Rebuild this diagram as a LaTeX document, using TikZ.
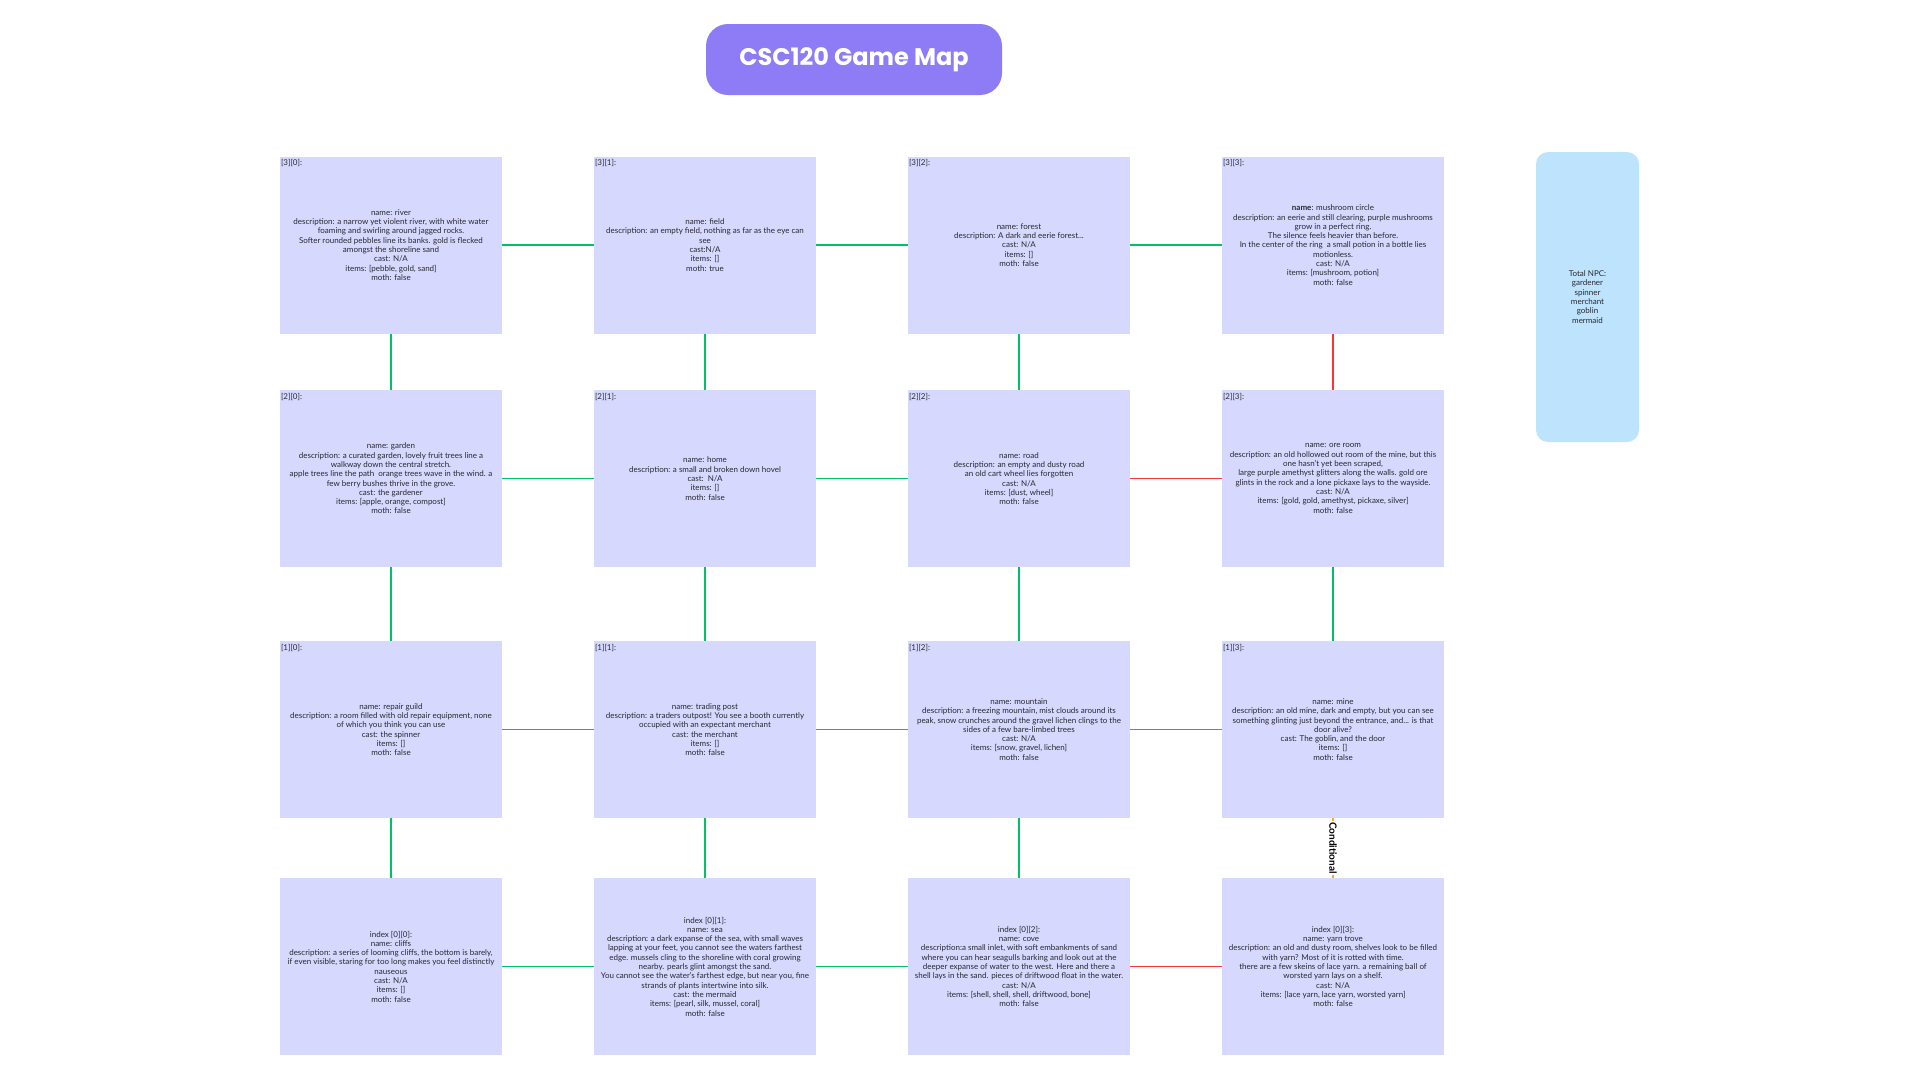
\documentclass[tikz,border=0pt]{standalone}
\usepackage{fontspec}
\setmainfont{Lato}
\newfontfamily\titlefont{Poppins}
\definecolor{roomfill}{RGB}{214,217,253}
\definecolor{npcfill}{RGB}{190,227,252}
\definecolor{titlefill}{RGB}{142,124,247}
\definecolor{linkgreen}{RGB}{0,194,100}
\definecolor{linkred}{RGB}{250,55,55}
\definecolor{linkorange}{RGB}{250,170,40}
\definecolor{roomtext}{RGB}{40,40,50}
\begin{document}
\begin{tikzpicture}[x = 1pt, y = -1pt,
    room/.style = {fill = roomfill, minimum width = 222pt, minimum height = 177pt, inner sep = 0pt,
        align = center, text = roomtext, font = \fontsize{8}{9.3}\selectfont},
    tag/.style = {anchor = north west, inner sep = 0pt, text = roomtext, font = \fontsize{8}{9}\selectfont},
    link/.style = {draw = linkgreen, line width = 1.7pt},
    blocked/.style = {draw = linkred, line width = 1.7pt}]
        \useasboundingbox (0, 0) rectangle (1920, 1080);

        \node[fill = titlefill, rounded corners = 22pt, minimum width = 296pt, minimum height = 71pt,
            text = white, font = \titlefont\bfseries\fontsize{24}{28}\selectfont] (title) at (854, 59.5) {CSC120 Game Map};

        \node[room] (r30) at (391, 245) {name: river\\description: a narrow yet violent river, with white water\\foaming and swirling around jagged rocks.\\Softer rounded pebbles line its banks. gold is flecked\\amongst the shoreline sand\\cast: N/A\\items: [pebble, gold, sand]\\moth: false};
        \node[room] (r31) at (705, 245) {name: field\\description: an empty field, nothing as far as the eye can\\see\\cast:N/A\\items: []\\moth: true};
        \node[room] (r32) at (1019, 245) {name: forest\\description: A dark and eerie forest...\\cast: N/A\\items: []\\moth: false};
        \node[room] (r33) at (1333, 245) {\textbf{name}: mushroom circle\\description: an eerie and still clearing, purple mushrooms\\grow in a perfect ring.\\The silence feels heavier than before.\\In the center of the ring\ \ a small potion in a bottle lies\\motionless.\\cast: N/A\\items: [mushroom, potion]\\moth: false};

        \node[room] (r20) at (391, 478.5) {name: garden\\description: a curated garden, lovely fruit trees line a\\walkway down the central stretch.\\apple trees line the path\ \ orange trees wave in the wind. a\\few berry bushes thrive in the grove.\\cast: the gardener\\items: [apple, orange, compost]\\moth: false};
        \node[room] (r21) at (705, 478.5) {name: home\\description: a small and broken down hovel\\cast:\ \ N/A\\items: []\\moth: false};
        \node[room] (r22) at (1019, 478.5) {name: road\\description: an empty and dusty road\\an old cart wheel lies forgotten\\cast: N/A\\items: [dust, wheel]\\moth: false};
        \node[room] (r23) at (1333, 478.5) {name: ore room\\description: an old hollowed out room of the mine, but this\\one hasn't yet been scraped,\\large purple amethyst glitters along the walls. gold ore\\glints in the rock and a lone pickaxe lays to the wayside.\\cast: N/A\\items: [gold, gold, amethyst, pickaxe, silver]\\moth: false};

        \node[room] (r10) at (391, 729.5) {name: repair guild\\description: a room filled with old repair equipment, none\\of which you think you can use\\cast: the spinner\\items: []\\moth: false};
        \node[room] (r11) at (705, 729.5) {name: trading post\\description: a traders outpost! You see a booth currently\\occupied with an expectant merchant\\cast: the merchant\\items: []\\moth: false};
        \node[room] (r12) at (1019, 729.5) {name: mountain\\description: a freezing mountain, mist clouds around its\\peak, snow crunches around the gravel lichen clings to the\\sides of a few bare-limbed trees\\cast: N/A\\items: [snow, gravel, lichen]\\moth: false};
        \node[room] (r13) at (1333, 729.5) {name: mine\\description: an old mine, dark and empty, but you can see\\something glinting just beyond the entrance, and... is that\\door alive?\\cast: The goblin, and the door\\items: []\\moth: false};

        \node[room] (r00) at (391, 966.5) {index [0][0]:\\name: cliffs\\description: a series of looming cliffs, the bottom is barely,\\if even visible, staring for too long makes you feel distinctly\\nauseous\\cast: N/A\\items: []\\moth: false};
        \node[room] (r01) at (705, 966.5) {index [0][1]:\\name: sea\\description: a dark expanse of the sea, with small waves\\lapping at your feet, you cannot see the waters farthest\\edge. mussels cling to the shoreline with coral growing\\nearby. pearls glint amongst the sand.\\You cannot see the water's farthest edge, but near you, fine\\strands of plants intertwine into silk.\\cast: the mermaid\\items: [pearl, silk, mussel, coral]\\moth: false};
        \node[room] (r02) at (1019, 966.5) {index [0][2]:\\name: cove\\description:a small inlet, with soft embankments of sand\\where you can hear seagulls barking and look out at the\\deeper expanse of water to the west. Here and there a\\shell lays in the sand. pieces of driftwood float in the water.\\cast: N/A\\items: [shell, shell, shell, driftwood, bone]\\moth: false};
        \node[room] (r03) at (1333, 966.5) {index [0][3]:\\name: yarn trove\\description: an old and dusty room, shelves look to be filled\\with yarn? Most of it is rotted with time.\\there are a few skeins of lace yarn. a remaining ball of\\worsted yarn lays on a shelf.\\cast: N/A\\items: [lace yarn, lace yarn, worsted yarn]\\moth: false};

        \node[tag] (t30) at ([shift = {(1, 3)}]r30.north west) {[3][0]:};
        \node[tag] (t31) at ([shift = {(1, 3)}]r31.north west) {[3][1]:};
        \node[tag] (t32) at ([shift = {(1, 3)}]r32.north west) {[3][2]:};
        \node[tag] (t33) at ([shift = {(1, 3)}]r33.north west) {[3][3]:};
        \node[tag] (t20) at ([shift = {(1, 3)}]r20.north west) {[2][0]:};
        \node[tag] (t21) at ([shift = {(1, 3)}]r21.north west) {[2][1]:};
        \node[tag] (t22) at ([shift = {(1, 3)}]r22.north west) {[2][2]:};
        \node[tag] (t23) at ([shift = {(1, 3)}]r23.north west) {[2][3]:};
        \node[tag] (t10) at ([shift = {(1, 3)}]r10.north west) {[1][0]:};
        \node[tag] (t11) at ([shift = {(1, 3)}]r11.north west) {[1][1]:};
        \node[tag] (t12) at ([shift = {(1, 3)}]r12.north west) {[1][2]:};
        \node[tag] (t13) at ([shift = {(1, 3)}]r13.north west) {[1][3]:};

        \node[fill = npcfill, rounded corners = 12pt, minimum width = 103pt, minimum height = 290pt, align = center,
            text = roomtext, font = \fontsize{8}{9.3}\selectfont] (npc) at (1587.5, 297) {Total NPC:\\gardener\\spinner\\merchant\\goblin\\mermaid};

        \draw[link] (r30) -- (r31);
        \draw[link] (r31) -- (r32);
        \draw[link] (r32) -- (r33);
        \draw[link] (r20) -- (r21);
        \draw[link] (r21) -- (r22);
        \draw[blocked] (r22) -- (r23);
        \draw[link] (r10) -- (r11);
        \draw[link] (r11) -- (r12);
        \draw[link] (r12) -- (r13);
        \draw[link] (r00) -- (r01);
        \draw[link] (r01) -- (r02);
        \draw[blocked] (r02) -- (r03);

        \draw[link] (r30) -- (r20);
        \draw[link] (r20) -- (r10);
        \draw[link] (r10) -- (r00);
        \draw[link] (r31) -- (r21);
        \draw[link] (r21) -- (r11);
        \draw[link] (r11) -- (r01);
        \draw[link] (r32) -- (r22);
        \draw[link] (r22) -- (r12);
        \draw[link] (r12) -- (r02);
        \draw[blocked] (r33) -- (r23);
        \draw[link] (r23) -- (r13);
        \draw[draw = linkorange, line width = 1.7pt] (r13) -- node[fill = white, inner sep = 0.8pt, rotate = -90,
            font = \bfseries\fontsize{10}{11}\selectfont] (cond) {Conditional} (r03);

    \end{tikzpicture}
\end{document}
